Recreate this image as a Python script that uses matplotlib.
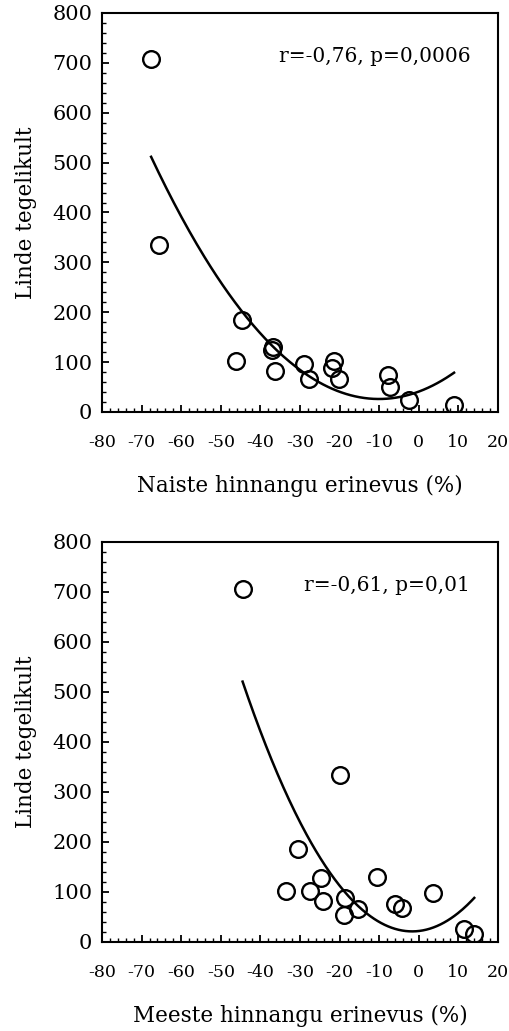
#!/usr/bin/env python3
# Two scatter panels: bird counts vs. estimate difference, with quadratic trendlines

import numpy as np
import matplotlib.pyplot as plt
from matplotlib.ticker import MultipleLocator

plt.rcParams['font.family'] = ['DejaVu Serif']
plt.rcParams['axes.unicode_minus'] = False

# Women's estimate difference (%) vs. actual bird count
naised_x = [-67.6, -65.5, -44.6, -46.2, -36.9, -37.0, -36.2, -28.9, -27.8,
            -21.4, -21.9, -20.2, -7.9, -7.2, -2.4, 8.9]
naised_y = [707, 335, 184, 102, 131, 125, 82, 96, 66,
            102, 89, 66, 74, 51, 24, 14]

# Men's estimate difference (%) vs. actual bird count
mehed_x = [-44.5, -19.9, -30.6, -33.6, -27.6, -24.6, -24.2, -18.6, -19.0,
           -15.4, -10.6, -5.9, -4.2, 3.5, 11.5, 14.0]
mehed_y = [706, 333, 185, 102, 101, 128, 82, 88, 53,
           65, 129, 75, 67, 97, 25, 15]

panels = [
    (naised_x, naised_y, "Naiste hinnangu erinevus (%)", "r=-0,76, p=0,0006"),
    (mehed_x, mehed_y, "Meeste hinnangu erinevus (%)", "r=-0,61, p=0,01"),
]

fig = plt.figure(figsize=(5.10, 10.31), dpi=100)
axes_pos = [[0.2, 0.6004, 0.7765, 0.387], [0.2, 0.0866, 0.7765, 0.388]]

for pos, (xs, ys, xlabel, note) in zip(axes_pos, panels):
    ax = fig.add_axes(pos)
    xs = np.array(xs)
    ys = np.array(ys)

    # polynomial (order 2) trendline, as in the spreadsheet original
    coef = np.polyfit(xs, ys, 2)
    xx = np.linspace(xs.min(), xs.max(), 200)
    ax.plot(xx, np.polyval(coef, xx), color='black', lw=1.8)

    ax.plot(xs, ys, 'o', ms=12, mfc='none', mec='black', mew=1.7)

    ax.set_xlim(-80, 20)
    ax.set_ylim(0, 800)
    ax.xaxis.set_major_locator(MultipleLocator(10))
    ax.xaxis.set_minor_locator(MultipleLocator(2))
    ax.yaxis.set_major_locator(MultipleLocator(100))
    ax.yaxis.set_minor_locator(MultipleLocator(20))
    ax.tick_params(which='both', direction='in', top=False, right=False)
    ax.tick_params(which='major', length=5, width=1.3)
    ax.tick_params(which='minor', length=3, width=1.0)
    ax.tick_params(axis='x', labelsize=12.5, pad=16)
    ax.tick_params(axis='y', labelsize=15, pad=7)
    for s in ax.spines.values():
        s.set_linewidth(1.5)

    ax.set_xlabel(xlabel, fontsize=15.5, labelpad=17)
    ax.set_ylabel("Linde tegelikult", fontsize=15.5, labelpad=11)
    ax.text(0.93, 0.89, note, transform=ax.transAxes, ha='right', va='center',
            fontsize=14.5)

plt.savefig("out.png", dpi=100)
